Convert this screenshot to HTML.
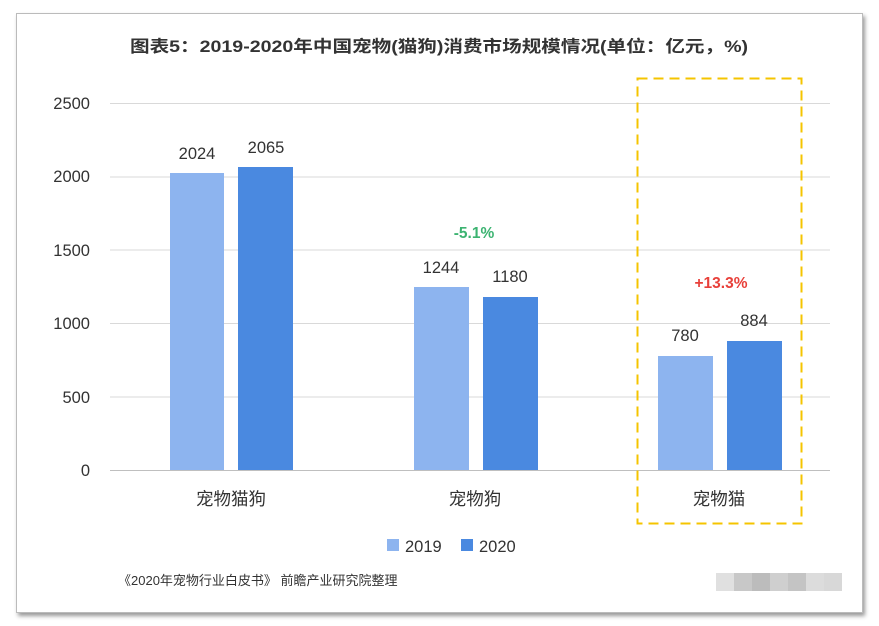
<!DOCTYPE html>
<html><head><meta charset="utf-8"><style>
body{margin:0;width:879px;height:626px;background:#fff;position:relative;overflow:hidden;font-family:"Liberation Sans","Noto Sans CJK SC",sans-serif;}
.frame{position:absolute;left:16px;top:13px;width:845px;height:598px;border:1px solid #bbb;box-shadow:2px 3px 4px #999;background:#fff;}
</style></head><body>
<div class="frame"></div>
<svg width="879" height="626" style="position:absolute;left:0;top:0" font-family="Liberation Sans, Noto Sans CJK SC, sans-serif">
<text x="439" y="52" text-anchor="middle" font-size="16.5" font-weight="bold" fill="#333" textLength="618" lengthAdjust="spacingAndGlyphs">图表5：2019-2020年中国宠物(猫狗)消费市场规模情况(单位：亿元，%)</text>
<g stroke="#d9d9d9" stroke-width="1">
<line x1="110" x2="830" y1="103.5" y2="103.5"/><line x1="110" x2="830" y1="177" y2="177"/><line x1="110" x2="830" y1="250" y2="250"/><line x1="110" x2="830" y1="323.5" y2="323.5"/><line x1="110" x2="830" y1="397" y2="397"/>
</g>
<line x1="110" x2="830" y1="470.5" y2="470.5" stroke="#bfbfbf"/>
<g font-size="16.5" fill="#333" text-anchor="end">
<text x="90" y="109">2500</text><text x="90" y="182">2000</text><text x="90" y="256">1500</text><text x="90" y="329">1000</text><text x="90" y="403">500</text><text x="90" y="476">0</text>
</g>
<g fill="#8db4ef"><rect x="170" y="173" width="54" height="297"/><rect x="414" y="287" width="55" height="183"/><rect x="658" y="356" width="55" height="114"/></g>
<g fill="#4a89e0"><rect x="238" y="167" width="55" height="303"/><rect x="483" y="297" width="55" height="173"/><rect x="727" y="341" width="55" height="129"/></g>
<g font-size="16.5" fill="#333" text-anchor="middle">
<text x="197" y="159">2024</text><text x="266" y="153">2065</text>
<text x="441" y="273">1244</text><text x="510" y="282">1180</text>
<text x="685" y="341">780</text><text x="754" y="326">884</text>
<text x="231" y="505" font-size="17.5">宠物猫狗</text><text x="475" y="505" font-size="17.5">宠物狗</text><text x="719" y="505" font-size="17.5">宠物猫</text>
</g>
<text x="474" y="238" font-size="15.5" font-weight="bold" fill="#3cb371" text-anchor="middle">-5.1%</text>
<text x="721" y="288" font-size="15.5" font-weight="bold" fill="#e8403a" text-anchor="middle">+13.3%</text>
<rect x="637.5" y="78.5" width="164" height="445" fill="none" stroke="#f5c400" stroke-width="2" stroke-dasharray="10,6"/>
<rect x="387" y="539" width="12" height="12" fill="#8db4ef"/><text x="405" y="552" font-size="16.5" fill="#333">2019</text>
<rect x="461" y="539" width="12" height="12" fill="#4a89e0"/><text x="479" y="552" font-size="16.5" fill="#333">2020</text>
<text x="118" y="585" font-size="13" fill="#333">《2020年宠物行业白皮书》 前瞻产业研究院整理</text>
<g><rect x="716" y="573" width="18" height="18" fill="#e0e0e0"/><rect x="734" y="573" width="18" height="18" fill="#c8c8c8"/><rect x="752" y="573" width="18" height="18" fill="#bcbcbc"/><rect x="770" y="573" width="18" height="18" fill="#cfcfcf"/><rect x="788" y="573" width="18" height="18" fill="#c4c4c4"/><rect x="806" y="573" width="18" height="18" fill="#dcdcdc"/><rect x="824" y="573" width="18" height="18" fill="#d8d8d8"/></g>
</svg>
</body></html>
